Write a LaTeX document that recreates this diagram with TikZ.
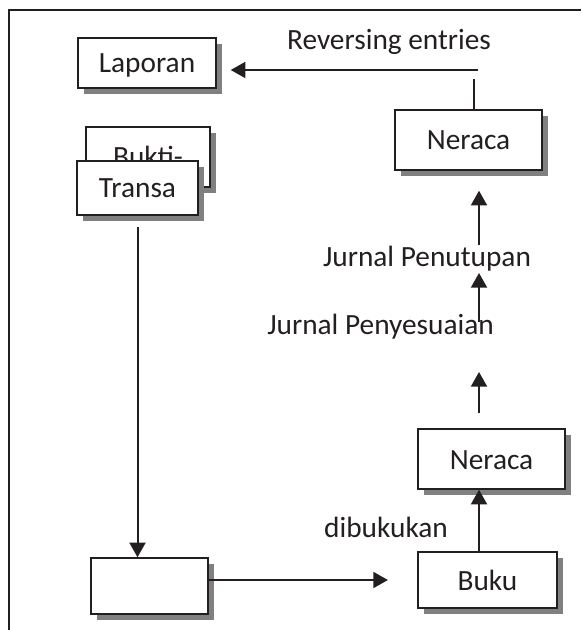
\documentclass[tikz,border=0pt]{standalone}
\usepackage{fontspec}
\setmainfont{Carlito}
\usetikzlibrary{arrows.meta,shadows}

\definecolor{ink}{RGB}{35,31,32}

\tikzset{
    lbl/.style={font=\fontsize{22}{26}\selectfont, text=ink, inner sep=0pt},
    flowbox/.style={lbl, draw=ink, line width=1.1pt, fill=white,
        text height=15pt, text depth=0pt,
        drop shadow={shadow xshift=4.5pt, shadow yshift=-4.5pt, fill=black!50, opacity=1}},
    arr/.style={draw=ink, line width=1.5pt, -{Triangle[length=11pt,width=12pt]}}
}

\begin{document}
\begin{tikzpicture}[x=0.75pt, y=-0.75pt]
    \useasboundingbox (0,0) rectangle (581,630);
    % frame, cut at the right and at the bottom
    \draw[ink, line width=1.3pt] (9,630) -- (9,10) -- (581,10);

    \node[flowbox, minimum width=103.5pt, minimum height=37.5pt] (lap) at (147,63) {Laporan};
    \node[flowbox, minimum width=93pt, minimum height=45pt] (bkt) at (148,157) {Bukti-};
    \node[flowbox, minimum width=90.75pt, minimum height=40.5pt] (trs) at (137.5,188) {Transa};
    \node[flowbox, minimum width=87.75pt, minimum height=42pt] (ent) at (149.5,586) {};
    \node[flowbox, minimum width=104.25pt, minimum height=42pt] (bk) at (487.5,580) {Buku};
    \node[flowbox, minimum width=110.25pt, minimum height=45pt] (nrcb) at (491.5,459) {Neraca};
    \node[flowbox, minimum width=110.25pt, minimum height=45pt] (nrct) at (468.5,140) {Neraca};

    \node[lbl, anchor=base] (rev) at (389,50) {Reversing entries};
    \node[lbl, anchor=base] (jpt) at (427,267) {Jurnal Penutupan};
    \node[lbl, anchor=base] (jps) at (380.5,334) {Jurnal Penyesuaian};
    \node[lbl, anchor=base] (dib) at (386,537) {dibukukan};

    % right column
    \coordinate (col) at (479,0);
    \coordinate (revr) at (478,70);
    \coordinate (revt) at (474,79);
    \coordinate (s1) at (479,413);
    \coordinate (t1) at (479,372);
    \coordinate (s2) at (479,322);
    \coordinate (t2) at (479,273);
    \coordinate (s3) at (479,245);

    \draw[arr, shorten >=10.5pt] (revr) -- (revr -| lap.east);
    \draw[ink, line width=1.5pt] (nrct.north -| revt) -- (revt);
    \draw[arr, shorten <=8.25pt] (trs.south) -- (trs.south |- ent.north);
    \draw[arr, shorten >=22pt] ([yshift=4.5pt]ent.east) -- ([yshift=4.5pt]ent.east -| bk.west);
    \draw[arr] (bk.north -| col) -- (nrcb.south -| col);
    \draw[arr] (s1) -- (t1);
    \draw[arr] (s2) -- (t2);
    \draw[arr, shorten >=15pt] (s3) -- (nrct.south -| col);
\end{tikzpicture}
\end{document}
